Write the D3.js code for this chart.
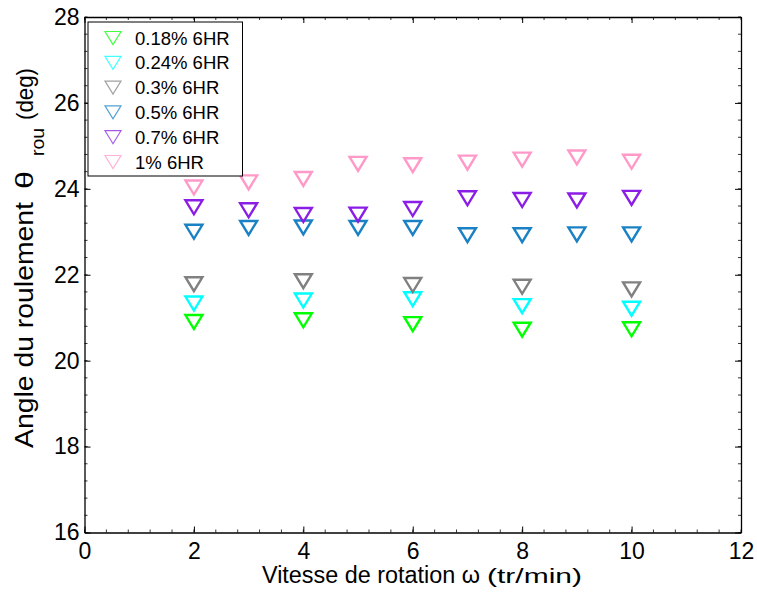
<!DOCTYPE html>
<html><head><meta charset="utf-8">
<script src="https://cdn.jsdelivr.net/npm/d3@7"></script>
<style>body{margin:0;background:#fff}svg{display:block}text{font-family:"Liberation Sans",Arial,sans-serif}</style>
</head><body>
<svg id="c" width="757" height="592"></svg>
<script>
const speeds = [2,3,4,5,6,7,8,9,10];
const seriesNames = ["0.18% 6HR","0.24% 6HR","0.3% 6HR","0.5% 6HR","0.7% 6HR","1% 6HR"];
const seriesColors = ["#00ff00","#00ffff","#808080","#1a82c4","#8a1ee6","#ff99c8"];
const s018 = [[2,20.90],[4,20.94],[6,20.85],[8,20.72],[10,20.73]];
const s024 = [[2,21.33],[4,21.40],[6,21.43],[8,21.27],[10,21.21]];
const s03  = [[2,21.78],[4,21.85],[6,21.76],[8,21.72],[10,21.66]];
const s05  = [[2,23.00],[3,23.09],[4,23.10],[5,23.09],[6,23.09],[7,22.92],[8,22.92],[9,22.94],[10,22.94]];
const s07  = [[2,23.57],[3,23.50],[4,23.39],[5,23.40],[6,23.53],[7,23.78],[8,23.74],[9,23.73],[10,23.79]];
const s1   = [[2,24.03],[3,24.15],[4,24.23],[5,24.58],[6,24.55],[7,24.61],[8,24.68],[9,24.73],[10,24.63]];
const allSeries = [s018,s024,s03,s05,s07,s1];
const xTicks = [0,2,4,6,8,10,12];
const yTicks = [16,18,20,22,24,26,28];

const svg = d3.select("#c");
const L=84.5, R=741, T=17, B=532.5;
const x = d3.scaleLinear().domain([0,12]).range([L,R]);
const y = d3.scaleLinear().domain([16,28]).range([B,T]);

const minorX = d3.range(0,12.001,0.4);
const minorY = d3.range(16,28.001,0.4);

const g = svg.append("g");
g.selectAll(".mxb").data(minorX).join("line").attr("x1",d=>x(d)).attr("x2",d=>x(d)).attr("y1",B).attr("y2",B-3).attr("stroke","#000").attr("stroke-width",0.8);
g.selectAll(".mxt").data(minorX).join("line").attr("x1",d=>x(d)).attr("x2",d=>x(d)).attr("y1",T).attr("y2",T+3).attr("stroke","#000").attr("stroke-width",0.8);
g.selectAll(".myl").data(minorY).join("line").attr("y1",d=>y(d)).attr("y2",d=>y(d)).attr("x1",L).attr("x2",L+3).attr("stroke","#000").attr("stroke-width",0.8);
g.selectAll(".myr").data(minorY).join("line").attr("y1",d=>y(d)).attr("y2",d=>y(d)).attr("x1",R).attr("x2",R-3).attr("stroke","#000").attr("stroke-width",0.8);

const xAxB = d3.axisBottom(x).tickValues(xTicks).tickSizeInner(-6).tickSizeOuter(0).tickPadding(10);
const gx = svg.append("g").attr("transform",`translate(0,${B})`).call(xAxB);
gx.select(".domain").attr("stroke","#000").attr("stroke-width",1.3);
gx.selectAll("text").attr("font-size",23).attr("fill","#000").attr("font-family","Liberation Sans, Arial, sans-serif");
const xAxT = d3.axisTop(x).tickValues(xTicks).tickSizeInner(-6).tickSizeOuter(0).tickFormat("");
const gxt = svg.append("g").attr("transform",`translate(0,${T})`).call(xAxT);
gxt.select(".domain").attr("stroke","#000").attr("stroke-width",1.3);
const yAxL = d3.axisLeft(y).tickValues(yTicks).tickSizeInner(-6).tickSizeOuter(0).tickPadding(5);
const gy = svg.append("g").attr("transform",`translate(${L},0)`).call(yAxL);
gy.select(".domain").attr("stroke","#000").attr("stroke-width",1.3);
gy.selectAll("text").attr("font-size",23).attr("fill","#000").attr("font-family","Liberation Sans, Arial, sans-serif");
const yAxR = d3.axisRight(y).tickValues(yTicks).tickSizeInner(-6).tickSizeOuter(0).tickFormat("");
const gyr = svg.append("g").attr("transform",`translate(${R},0)`).call(yAxR);
gyr.select(".domain").attr("stroke","#000").attr("stroke-width",1.3);

function tri(w,h){return `M${-w/2},${-h/2}L${w/2},${-h/2}L0,${h/2}Z`;}
allSeries.forEach((s,i)=>{
  svg.append("g").selectAll("path").data(s).join("path")
    .attr("d",tri(17,14))
    .attr("transform",d=>`translate(${x(d[0])},${y(d[1])})`)
    .attr("fill","none").attr("stroke",seriesColors[i]).attr("stroke-width",2.4);
});

const lg = svg.append("g");
lg.append("rect").attr("x",88).attr("y",22).attr("width",154.5).attr("height",154).attr("fill","#fff").attr("stroke","#000").attr("stroke-width",1);
const rowY = d3.scaleLinear().domain([0,5]).range([38,162]);
seriesNames.forEach((n,i)=>{
  lg.append("path").attr("d",tri(16,13)).attr("transform",`translate(113,${rowY(i)})`)
    .attr("fill","none").attr("stroke",seriesColors[i]).attr("stroke-width",1.2).attr("opacity",0.75);
  lg.append("text").attr("x",135).attr("y",rowY(i)+6.5).attr("font-size",18.5).attr("fill","#000").text(n);
});

// x label
svg.append("text").attr("x",262).attr("y",583).attr("font-size",23).attr("fill","#000")
  .attr("textLength",218).attr("lengthAdjust","spacingAndGlyphs").text("Vitesse de rotation ω");
svg.append("text").attr("x",487).attr("y",583).attr("font-size",21).attr("fill","#000")
  .attr("textLength",95).attr("lengthAdjust","spacingAndGlyphs").text("(tr/min)");

// y label pieces (rotated)
function ylab(txt, yStart, xBase, size, len){
  const t = svg.append("text").attr("transform",`translate(${xBase},${yStart}) rotate(-90)`)
    .attr("font-size",size).attr("fill","#000").text(txt);
  if(len) t.attr("textLength",len).attr("lengthAdjust","spacingAndGlyphs");
  return t;
}
ylab("Angle du roulement", 448, 33, 25, 246);
ylab("θ", 189, 33, 24, 18);
ylab("rou", 156, 44, 18, 28);
ylab("(deg)", 120, 33, 24, 52);
</script>
</body></html>
